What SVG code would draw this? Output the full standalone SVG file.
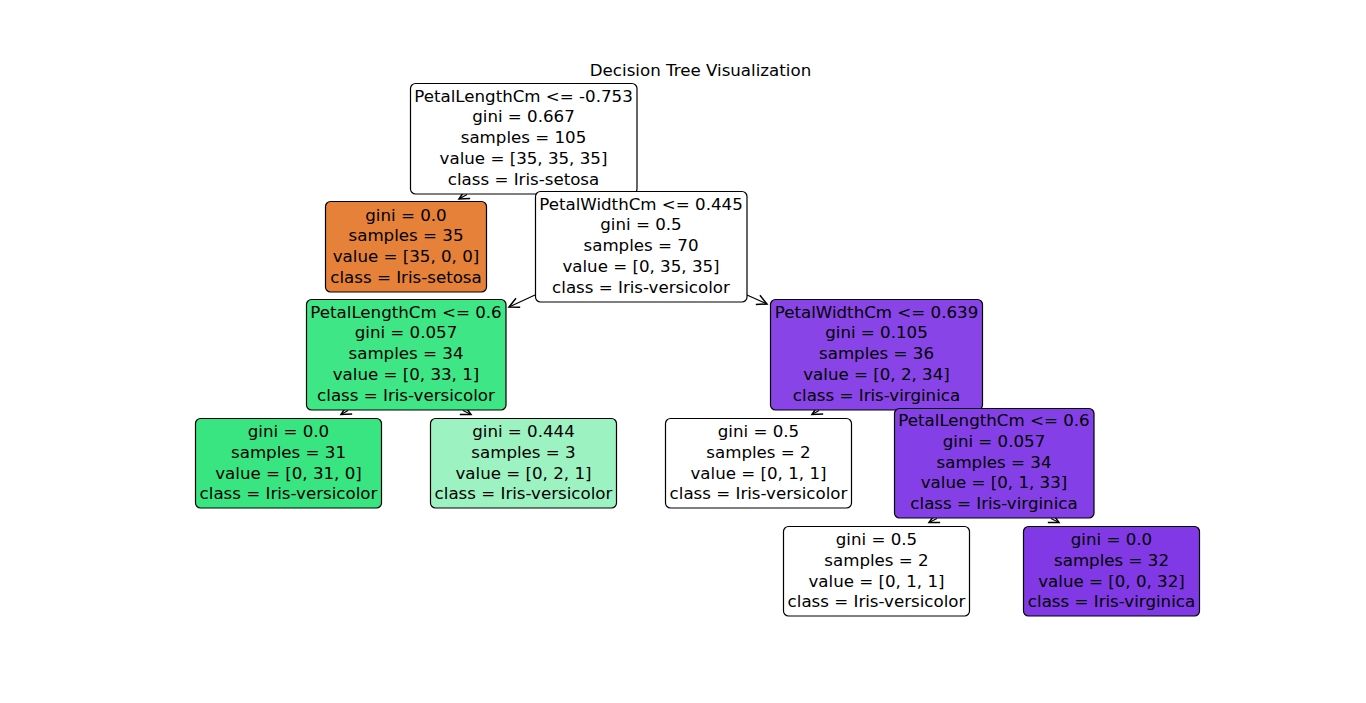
<svg xmlns="http://www.w3.org/2000/svg" width="1366" height="703" viewBox="0 0 1366 703">
<style>
text{font-family:"DejaVu Sans",sans-serif;font-size:16.67px;fill:#000;text-anchor:middle}
.box{stroke:#000;stroke-width:1.2}
.edge{stroke:#000;stroke-width:1.2;fill:none}
</style>
<defs>
<marker id="arr" markerUnits="userSpaceOnUse" orient="auto" refX="0" refY="0" markerWidth="20" markerHeight="20" viewBox="-12 -8 16 16" overflow="visible">
<path d="M-8,-4 L0,0 L-8,4" fill="none" stroke="#000" stroke-width="1.2"/>
</marker>
</defs>
<rect width="1366" height="703" fill="#fff"/>
<text x="700.5" y="76">Decision Tree Visualization</text>
<g id="connectors">
<line class="edge" x1="467" y1="194.5" x2="459" y2="199" marker-end="url(#arr)"/>
<line class="edge" x1="535" y1="295" x2="509" y2="307" marker-end="url(#arr)"/>
<line class="edge" x1="747" y1="295" x2="767" y2="304" marker-end="url(#arr)"/>
<line class="edge" x1="348" y1="410.5" x2="341" y2="414.5" marker-end="url(#arr)"/>
<line class="edge" x1="463" y1="410.5" x2="471" y2="414.5" marker-end="url(#arr)"/>
<line class="edge" x1="819" y1="410.5" x2="812" y2="414.5" marker-end="url(#arr)"/>
<line class="edge" x1="937" y1="518.5" x2="929" y2="522.5" marker-end="url(#arr)"/>
<line class="edge" x1="1051" y1="518.5" x2="1059" y2="522.5" marker-end="url(#arr)"/>
</g>
<g id="node0">
<rect class="box" x="410.5" y="83.5" width="226.5" height="110.5" rx="5" fill="#ffffff"/>
<text x="523.5" y="101.7">PetalLengthCm &lt;= -0.753</text>
<text x="523.5" y="122.4">gini = 0.667</text>
<text x="523.5" y="143.1">samples = 105</text>
<text x="523.5" y="163.8">value = [35, 35, 35]</text>
<text x="523.5" y="184.5">class = Iris-setosa</text>
</g>
<g id="node1">
<rect class="box" x="325.5" y="201.5" width="161" height="90.5" rx="5" fill="#e58139"/>
<text x="406" y="220.7">gini = 0.0</text>
<text x="406" y="241.4">samples = 35</text>
<text x="406" y="262.1">value = [35, 0, 0]</text>
<text x="406" y="282.8">class = Iris-setosa</text>
</g>
<g id="node2">
<rect class="box" x="535.5" y="191.5" width="211.5" height="110.5" rx="5" fill="#ffffff"/>
<text x="641" y="209.7">PetalWidthCm &lt;= 0.445</text>
<text x="641" y="230.4">gini = 0.5</text>
<text x="641" y="251.1">samples = 70</text>
<text x="641" y="271.8">value = [0, 35, 35]</text>
<text x="641" y="292.5">class = Iris-versicolor</text>
</g>
<g id="node3">
<rect class="box" x="306.5" y="299.5" width="199.5" height="110.5" rx="5" fill="#3fe685"/>
<text x="406" y="317.7">PetalLengthCm &lt;= 0.6</text>
<text x="406" y="338.4">gini = 0.057</text>
<text x="406" y="359.1">samples = 34</text>
<text x="406" y="379.8">value = [0, 33, 1]</text>
<text x="406" y="400.5">class = Iris-versicolor</text>
</g>
<g id="node4">
<rect class="box" x="770.5" y="299.5" width="212" height="110.5" rx="5" fill="#8844e6"/>
<text x="876.5" y="317.7">PetalWidthCm &lt;= 0.639</text>
<text x="876.5" y="338.4">gini = 0.105</text>
<text x="876.5" y="359.1">samples = 36</text>
<text x="876.5" y="379.8">value = [0, 2, 34]</text>
<text x="876.5" y="400.5">class = Iris-virginica</text>
</g>
<g id="node5">
<rect class="box" x="195.5" y="418.5" width="186" height="89.5" rx="5" fill="#39e581"/>
<text x="288.5" y="437.2">gini = 0.0</text>
<text x="288.5" y="457.9">samples = 31</text>
<text x="288.5" y="478.6">value = [0, 31, 0]</text>
<text x="288.5" y="499.3">class = Iris-versicolor</text>
</g>
<g id="node6">
<rect class="box" x="430.5" y="418.5" width="186" height="89.5" rx="5" fill="#9cf2c0"/>
<text x="523.5" y="437.2">gini = 0.444</text>
<text x="523.5" y="457.9">samples = 3</text>
<text x="523.5" y="478.6">value = [0, 2, 1]</text>
<text x="523.5" y="499.3">class = Iris-versicolor</text>
</g>
<g id="node7">
<rect class="box" x="665.5" y="418.5" width="186" height="89.5" rx="5" fill="#ffffff"/>
<text x="758.5" y="437.2">gini = 0.5</text>
<text x="758.5" y="457.9">samples = 2</text>
<text x="758.5" y="478.6">value = [0, 1, 1]</text>
<text x="758.5" y="499.3">class = Iris-versicolor</text>
</g>
<g id="node8">
<rect class="box" x="894.5" y="408.5" width="199.5" height="109.5" rx="5" fill="#853fe6"/>
<text x="994" y="426.2">PetalLengthCm &lt;= 0.6</text>
<text x="994" y="446.9">gini = 0.057</text>
<text x="994" y="467.6">samples = 34</text>
<text x="994" y="488.3">value = [0, 1, 33]</text>
<text x="994" y="509">class = Iris-virginica</text>
</g>
<g id="node9">
<rect class="box" x="783.5" y="526.5" width="186" height="89.5" rx="5" fill="#ffffff"/>
<text x="876.5" y="545.2">gini = 0.5</text>
<text x="876.5" y="565.9">samples = 2</text>
<text x="876.5" y="586.6">value = [0, 1, 1]</text>
<text x="876.5" y="607.3">class = Iris-versicolor</text>
</g>
<g id="node10">
<rect class="box" x="1023.5" y="526.5" width="176" height="89.5" rx="5" fill="#8139e5"/>
<text x="1111.5" y="545.2">gini = 0.0</text>
<text x="1111.5" y="565.9">samples = 32</text>
<text x="1111.5" y="586.6">value = [0, 0, 32]</text>
<text x="1111.5" y="607.3">class = Iris-virginica</text>
</g>
</svg>
